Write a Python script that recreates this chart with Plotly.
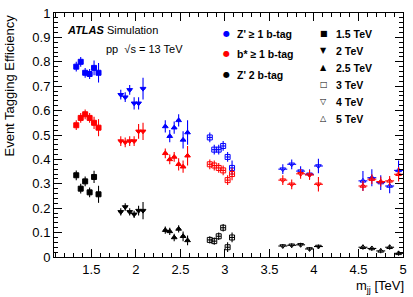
import plotly.graph_objects as go

# ---------------- data ----------------
mass_labels = ["1.5 TeV", "2 TeV", "2.5 TeV", "3 TeV", "4 TeV", "5 TeV"]
mass_symbols = ["square", "triangle-down", "triangle-up",
                "square-open", "triangle-down-open", "triangle-up-open"]
legend_glyphs = ["■", "▼", "▲", "□", "▽", "△"]

mjj_15 = [1.33, 1.38, 1.43, 1.48, 1.53, 1.58]
mjj_20 = [1.83, 1.88, 1.93, 1.98, 2.03, 2.08]
mjj_25 = [2.33, 2.38, 2.43, 2.48, 2.53, 2.58]
mjj_30 = [2.83, 2.88, 2.93, 2.98, 3.03, 3.08]
mjj_40 = [3.65, 3.75, 3.85, 3.95, 4.05]
mjj_50 = [4.55, 4.65, 4.75, 4.85, 4.95]
mjj_groups = [mjj_15, mjj_20, mjj_25, mjj_30, mjj_40, mjj_50]
mjj_halfwidth = [0.025, 0.025, 0.025, 0.025, 0.05, 0.05]

# Z' >= 1 b-tag
zp1_eff = [
    [0.78, 0.80, 0.755, 0.75, 0.775, 0.755],
    [0.665, 0.655, 0.685, 0.63, 0.63, 0.69],
    [0.535, 0.495, 0.53, 0.56, 0.48, 0.51],
    [0.49, 0.44, 0.44, 0.455, 0.41, 0.365],
    [0.36, 0.38, 0.352, 0.339, 0.373],
    [0.312, 0.325, 0.305, 0.291, 0.355],
]
zp1_err = [
    [0.02, 0.02, 0.02, 0.02, 0.03, 0.04],
    [0.02, 0.02, 0.02, 0.025, 0.025, 0.045],
    [0.025, 0.025, 0.025, 0.025, 0.035, 0.05],
    [0.02, 0.02, 0.02, 0.02, 0.02, 0.03],
    [0.02, 0.02, 0.02, 0.02, 0.03],
    [0.04, 0.035, 0.03, 0.03, 0.04],
]
# b* >= 1 b-tag
bst_eff = [
    [0.54, 0.57, 0.585, 0.57, 0.55, 0.53],
    [0.475, 0.47, 0.475, 0.475, 0.515, 0.515],
    [0.425, 0.40, 0.41, 0.38, 0.37, 0.415],
    [0.38, 0.375, 0.365, 0.355, 0.315, 0.34],
    [0.315, 0.298, 0.341, 0.336, 0.298],
    [0.291, 0.319, 0.309, 0.312, 0.339],
]
bst_err = [
    [0.02, 0.02, 0.02, 0.02, 0.025, 0.035],
    [0.02, 0.02, 0.02, 0.02, 0.03, 0.035],
    [0.02, 0.02, 0.02, 0.025, 0.025, 0.04],
    [0.02, 0.02, 0.02, 0.02, 0.02, 0.025],
    [0.02, 0.02, 0.02, 0.02, 0.03],
    [0.02, 0.02, 0.02, 0.02, 0.03],
]
# Z' 2 b-tag
zp2_eff = [
    [0.335, 0.28, 0.31, 0.265, 0.328, 0.257],
    [0.185, 0.205, 0.185, 0.175, 0.19, 0.19],
    [0.11, 0.105, 0.08, 0.115, 0.085, 0.068],
    [0.07, 0.065, 0.085, 0.12, 0.04, 0.08],
    [0.045, 0.048, 0.05, 0.033, 0.043],
    [0.04, 0.035, 0.025, 0.04, 0.015],
]
zp2_err = [
    [0.02, 0.02, 0.02, 0.02, 0.025, 0.035],
    [0.015, 0.015, 0.015, 0.015, 0.02, 0.035],
    [0.015, 0.015, 0.015, 0.015, 0.02, 0.02],
    [0.015, 0.015, 0.015, 0.015, 0.02, 0.02],
    [0.008, 0.008, 0.008, 0.008, 0.008],
    [0.01, 0.01, 0.01, 0.01, 0.01],
]

series_names = ["Z' ≥ 1 b-tag", "b* ≥ 1 b-tag", "Z' 2 b-tag"]
series_colors = ["#0000ff", "#ff0000", "#000000"]
series_eff = [zp1_eff, bst_eff, zp2_eff]
series_err = [zp1_err, bst_err, zp2_err]

FONT = "Liberation Sans, Arial, sans-serif"

fig = go.Figure()
for name, color, effs, errs in zip(series_names, series_colors, series_eff, series_err):
    for g, (xs, ys, es) in enumerate(zip(mjj_groups, effs, errs)):
        sym = mass_symbols[g]
        fig.add_trace(go.Scatter(
            x=xs, y=ys, mode="markers", showlegend=False,
            name=f"{name} {mass_labels[g]}",
            marker=dict(symbol=sym, size=5, color=color,
                        line=dict(color=color, width=1)),
            error_y=dict(type="data", array=es, width=0, thickness=1.1, color=color),
            error_x=dict(type="data", array=[mjj_halfwidth[g]] * len(xs),
                         width=0, thickness=1.1, color=color),
        ))

L, R, T, B = 54, 6, 12, 40
W, H = 413, 297
pw, ph = W - L - R, H - T - B


def px(xp):
    return (xp - L) / pw


def py(yp):
    return (H - B - yp) / ph


annotations = []
# ATLAS label
annotations.append(dict(x=px(65), y=py(29), xref="paper", yref="paper",
                        xanchor="left", yanchor="middle", showarrow=False,
                        text="<b><i>ATLAS</i></b> Simulation",
                        font=dict(family=FONT, size=11, color="black")))
annotations.append(dict(x=px(105), y=py(48), xref="paper", yref="paper",
                        xanchor="left", yanchor="middle", showarrow=False,
                        text="pp  √s = 13 TeV",
                        font=dict(family=FONT, size=11, color="black")))
# series legend
for i, (name, color) in enumerate(zip(series_names, series_colors)):
    yy = py([33, 53, 74][i])
    annotations.append(dict(x=px(228), y=yy, xref="paper", yref="paper",
                            xanchor="center", yanchor="middle", showarrow=False,
                            text="●", font=dict(family="DejaVu Sans", size=8, color=color)))
    annotations.append(dict(x=px(237), y=yy, xref="paper", yref="paper",
                            xanchor="left", yanchor="middle", showarrow=False,
                            text=f"<b>{name}</b>",
                            font=dict(family=FONT, size=10.5, color="black")))
# mass legend
for i, (lab, gl) in enumerate(zip(mass_labels, legend_glyphs)):
    yy = py(33 + i * 17)
    annotations.append(dict(x=px(327), y=yy, xref="paper", yref="paper",
                            xanchor="center", yanchor="middle", showarrow=False,
                            text=gl, font=dict(family="DejaVu Sans", size=8, color="black")))
    annotations.append(dict(x=px(337), y=yy, xref="paper", yref="paper",
                            xanchor="left", yanchor="middle", showarrow=False,
                            text=f"<b>{lab}</b>",
                            font=dict(family=FONT, size=10.5, color="black")))
# axis titles
annotations.append(dict(x=px(8), y=py(12), xref="paper", yref="paper",
                        xanchor="center", yanchor="top", showarrow=False,
                        textangle=-90, text="Event Tagging Efficiency",
                        font=dict(family=FONT, size=13, color="black")))
annotations.append(dict(x=px(410), y=py(287), xref="paper", yref="paper",
                        xanchor="right", yanchor="middle", showarrow=False,
                        text="m<sub>jj</sub> [TeV]",
                        font=dict(family=FONT, size=13, color="black")))

axis_common = dict(showgrid=False, zeroline=False, showline=True, linecolor="black",
                   linewidth=1, mirror="allticks", ticks="inside", ticklen=8,
                   tickwidth=1, tickcolor="black",
                   tickfont=dict(family=FONT, size=13, color="black"))

fig.update_layout(
    width=W, height=H, autosize=False,
    margin=dict(l=L, r=R, t=T, b=B, pad=0),
    paper_bgcolor="white", plot_bgcolor="white",
    showlegend=False,
    annotations=annotations,
    xaxis=dict(range=[1.08, 5.0], tick0=0, dtick=0.5,
               minor=dict(ticks="inside", ticklen=4, dtick=0.1, tick0=0,
                          tickcolor="black", tickwidth=1, showgrid=False),
               **axis_common),
    yaxis=dict(range=[0, 1], tick0=0, dtick=0.1,
               minor=dict(ticks="inside", ticklen=4, dtick=0.02, tick0=0,
                          tickcolor="black", tickwidth=1, showgrid=False),
               **axis_common),
)

fig.write_html("out.html")
